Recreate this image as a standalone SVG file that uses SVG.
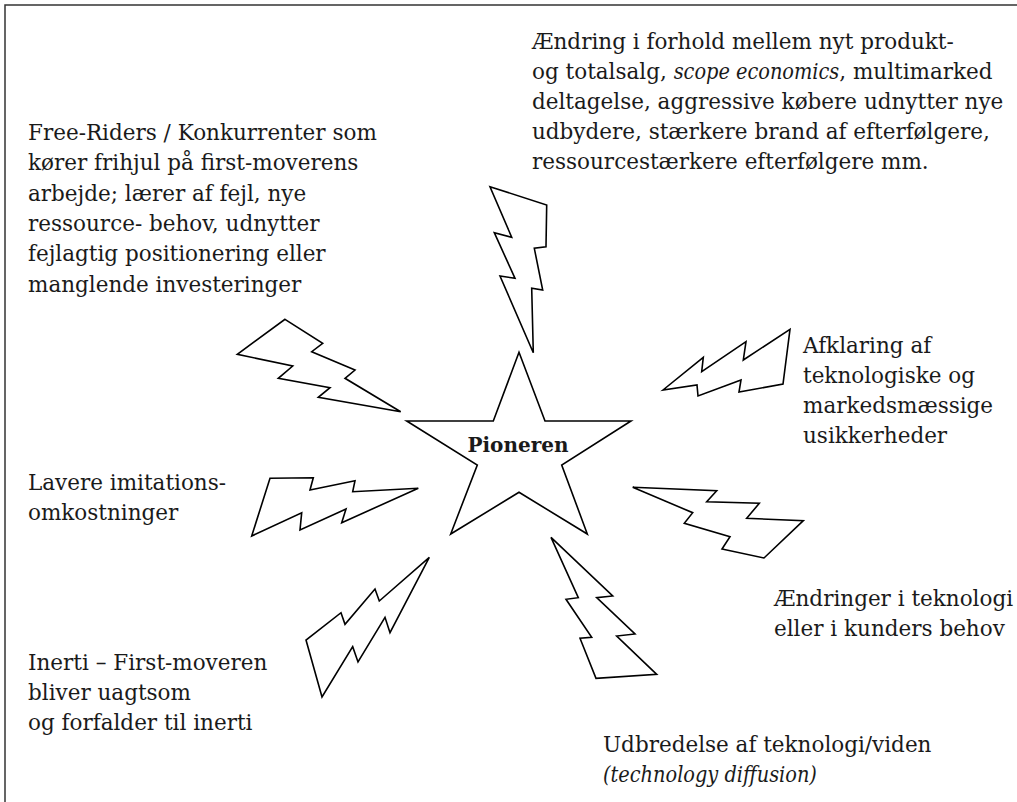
<svg xmlns="http://www.w3.org/2000/svg" width="1017" height="802" viewBox="0 0 1017 802">
<style>
.bolt{fill:#fff;stroke:#000;stroke-width:1.6;stroke-linejoin:miter}
.star{fill:#fff;stroke:#000;stroke-width:1.6}
.t{font-family:"DejaVu Serif","Liberation Serif",serif;font-size:21.5px;fill:#1a1a1a}
.i{font-family:"DejaVu Serif Condensed","DejaVu Serif",serif;font-stretch:condensed;font-style:italic}
.b{font-family:"DejaVu Serif","Liberation Serif",serif;font-size:20px;font-weight:bold;fill:#1a1a1a}
</style>
<rect width="1017" height="802" fill="#fff"/>
<path d="M5,802 V5 H1017" fill="none" stroke="#333" stroke-width="1.5"/>
<g id="connectors">
<polygon class="bolt" points="490,186.7 546.7,205 546,246.7 534.3,248.3 542.7,290 531.7,288.3 533.3,352.7 500,276 515,278.3 494.3,232.7 511.7,237.3"/>
<polygon class="bolt" points="285,319.3 322.7,343.3 311.7,351.7 355,370 345,378.3 400.7,411.7 318.3,397.3 330,387.7 278.3,378.3 292.7,366 237.3,354.3"/>
<polygon class="bolt" points="663,390 703.3,357.3 701.7,371.7 746,341.7 743.3,360 790,329.3 783,384 739,392 741,380 698,396 697,385"/>
<polygon class="bolt" points="270,478.3 313.3,477.7 310,490 355,480.7 352.7,491.7 418.3,488.3 341.7,522.7 346,509 300,530 301.7,512.7 251.7,536"/>
<polygon class="bolt" points="632.7,487.3 716.7,490.7 706.7,501.7 759.3,503.3 746.7,518.3 803.3,520.7 764,558 722,549 730,536.7 684.3,523.3 692.7,512.7"/>
<polygon class="bolt" points="429.3,557.3 390,632.7 385,617.3 358,662 352.7,646.7 322,697 306,640 341,612.7 345,624.3 375,589 379.3,601"/>
<polygon class="bolt" points="551,537.3 612.7,596 596.7,597.7 635,634 616.7,636 656.7,674.3 596,678.3 580,638.3 591.7,637.3 566,599.3 578.3,597.7"/>
</g>
<g id="pioneren">
<polygon class="star" points="519,352.3 545,421 631,421 561.7,465 587.3,534 519,492.3 450.7,534 477.3,465 406.7,421 493.3,421"/>
<text class="b" x="518" y="451.5" text-anchor="middle">Pioneren</text>
</g>
<g id="scope">
<text class="t" x="532" y="49">Ændring i forhold mellem nyt produkt-</text>
<text class="t" x="532" y="79">og totalsalg, <tspan class="i">scope economics</tspan>, multimarked</text>
<text class="t" x="532" y="109">deltagelse, aggressive købere udnytter nye</text>
<text class="t" x="532" y="139">udbydere, stærkere brand af efterfølgere,</text>
<text class="t" x="532" y="169">ressourcestærkere efterfølgere mm.</text>
</g>
<g id="freeriders">
<text class="t" x="28" y="140">Free-Riders / Konkurrenter som</text>
<text class="t" x="28" y="170.3">kører frihjul på first-moverens</text>
<text class="t" x="28" y="200.6">arbejde; lærer af fejl, nye</text>
<text class="t" x="28" y="230.9">ressource- behov, udnytter</text>
<text class="t" x="28" y="261.2">fejlagtig positionering eller</text>
<text class="t" x="28" y="291.5">manglende investeringer</text>
</g>
<g id="afklaring">
<text class="t" x="803" y="353">Afklaring af</text>
<text class="t" x="803" y="383">teknologiske og</text>
<text class="t" x="803" y="413">markedsmæssige</text>
<text class="t" x="803" y="443">usikkerheder</text>
</g>
<g id="imitation">
<text class="t" x="28" y="490">Lavere imitations-</text>
<text class="t" x="28" y="520">omkostninger</text>
</g>
<g id="teknologi">
<text class="t" x="774" y="606">Ændringer i teknologi</text>
<text class="t" x="774" y="636">eller i kunders behov</text>
</g>
<g id="inerti">
<text class="t" x="28" y="670">Inerti – First-moveren</text>
<text class="t" x="28" y="700">bliver uagtsom</text>
<text class="t" x="28" y="730">og forfalder til inerti</text>
</g>
<g id="diffusion">
<text class="t" x="603" y="752">Udbredelse af teknologi/viden</text>
<text class="t" x="603" y="782"><tspan class="i">(technology diffusion)</tspan></text>
</g>
</svg>
